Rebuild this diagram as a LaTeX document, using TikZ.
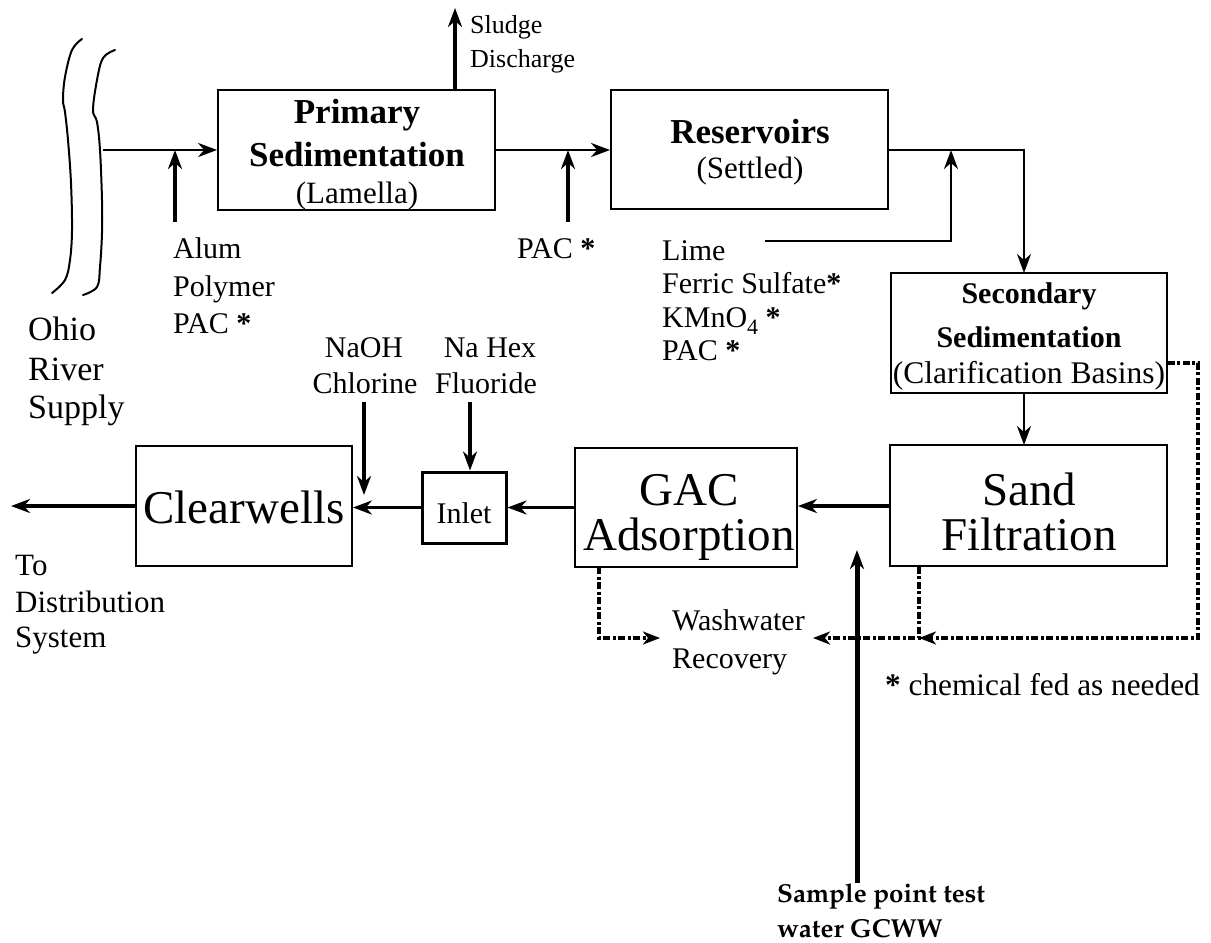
\documentclass[tikz,border=0pt]{standalone}
\usepackage[T1]{fontenc}
\usepackage{fontspec}
\setmainfont{Liberation Serif}
\usetikzlibrary{arrows.meta}
% bold book face for the sampling note
\newcommand\samplefont{\fontencoding{T1}\fontfamily{ppl}\fontseries{b}\selectfont}
\newcommand\fs[1]{\fontsize{#1}{#1}\selectfont}
\newcommand\boldast{\textbf{*}}

\begin{document}
\begin{tikzpicture}[x=1pt,y=-1pt,
  box/.style={draw, line width=1.8pt, inner sep=0pt},
  txt/.style={inner sep=0pt, font=\fs{30}},
  lbl/.style={txt, anchor=base west},
  ctr/.style={txt, anchor=base},
  head/.style={ctr, font=\fs{35}\bfseries},
  big/.style={ctr, font=\fs{47}},
  tip/.tip={Stealth[length=19pt, width=14pt, inset=6pt]},
  flow/.style={line width=2.6pt, -tip},
  thin/.style={line width=2pt, -tip},
  feed/.style={line width=4.5pt, -tip},
  recov/.style={line width=4pt, dash pattern=on 7pt off 2.5pt on 3pt off 2.5pt,
    -{Stealth[length=17pt, width=13pt, inset=5pt]}},
  river/.style={line width=2pt, line cap=round}]
\useasboundingbox (0,0) rectangle (1211,943);

% river banks
\draw[river] plot[smooth, tension=0.6] coordinates {(82,39) (72,50) (65,77) (63,100) (65,112)
  (68,140) (71,183) (72,230) (70,260) (65,280) (52,293)};
\draw[river] plot[smooth, tension=0.6] coordinates {(115,50) (103,58) (97,80) (93,110) (97,122)
  (100,150) (102,200) (102,233) (100,267) (97,287) (83,295)};
\node[lbl, font=\fs{34}] (ohio1) at (28,340) {Ohio};
\node[lbl, font=\fs{34}] (ohio2) at (28,380) {River};
\node[lbl, font=\fs{34}] (ohio3) at (28,418) {Supply};

% process units
\node[box, minimum width=277pt, minimum height=120pt] (prim) at (356.5,150) {};
\node[head] (primA) at (357,123) {Primary};
\node[head] (primB) at (357,166) {Sedimentation};
\node[ctr, font=\fs{31}] (primC) at (357,203) {(Lamella)};

\node[box, minimum width=277pt, minimum height=119pt] (res) at (749.5,149.5) {};
\node[head] (resA) at (750,143) {Reservoirs};
\node[ctr, font=\fs{31}] (resB) at (750,178) {(Settled)};

\node[box, minimum width=276pt, minimum height=120pt] (sec) at (1029,333) {};
\node[head, font=\fs{30}\bfseries] (secA) at (1029,303) {Secondary};
\node[head, font=\fs{30}\bfseries] (secB) at (1029,347) {Sedimentation};
\node[ctr, font=\fs{31.5}] (secC) at (1029,383) {(Clarification Basins)};

\node[box, minimum width=277pt, minimum height=121pt] (sand) at (1028.5,505.5) {};
\node[big] (sandA) at (1029,505) {Sand};
\node[big] (sandB) at (1029,550) {Filtration};

\node[box, minimum width=222pt, minimum height=119pt] (gac) at (686,507.5) {};
\node[big] (gacA) at (689,505) {GAC};
\node[big] (gacB) at (689,550) {Adsorption};

\node[box, line width=3pt, minimum width=84pt, minimum height=71pt] (inlet) at (464,507.5) {};
\node[ctr] (inletT) at (464,523) {Inlet};

\node[box, minimum width=216pt, minimum height=120pt] (clear) at (244,506) {};
\node[big] (clearT) at (244,523) {Clearwells};

% main flow
\coordinate (intake) at (103,150);
\draw[flow] (intake) -- (prim.west |- intake);
\draw[flow] (prim.east |- intake) -- (res.west |- intake);
\coordinate (resout) at (res.east |- intake);
\draw[thin] (resout) -| (1024,273);
\draw[thin] (1024,393) -- (1024,445);
\draw[feed, line width=4pt] (sand.west |- 0,506) -- (gac.east |- 0,506);
\draw[flow, line width=3pt] (gac.west |- inlet) -- (inlet.east);
\draw[flow, line width=3pt] (inlet.west) -- (clear.east |- inlet);
\coordinate (outlet) at (11,506);
\draw[feed, line width=4pt] (clear.west) -- (outlet);

% chemical feeds
\coordinate (alumin) at (175,222);
\draw[feed] (alumin) -- (175,150);
\coordinate (pacin) at (568,222);
\draw[feed] (pacin) -- (568,150);
\coordinate (sludge) at (455,8);
\draw[feed, line width=4pt] (prim.north -| sludge) -- (sludge);
\coordinate (limein) at (765,241);
\draw[thin] (limein) -| (951,150);
\coordinate (naohin) at (364,402);
\draw[feed, line width=4pt] (naohin) -- (364,495);
\coordinate (hexin) at (470,402);
\draw[feed, line width=4pt] (hexin) -- (inlet.north -| hexin);
\coordinate (samplein) at (857,883);
\draw[feed, line width=5pt] (samplein) -- (857,550);

% washwater returns
\coordinate (washL) at (660,638);
\coordinate (washR) at (813,638);
\coordinate (join) at (919,638);
\draw[recov] (599,567) |- (washL);
\draw[recov] (sand.south -| join) -- (join) -- (washR);
\draw[recov] (sec.east |- 0,363) -| (1198,638) -- (join);

% labels
\node[lbl, font=\fs{26}] (sl1) at (470,33) {Sludge};
\node[lbl, font=\fs{26}] (sl2) at (470,67) {Discharge};
\node[lbl] (al1) at (173,258) {Alum};
\node[lbl] (al2) at (173,296) {Polymer};
\node[lbl] (al3) at (173,333) {PAC \boldast};
\node[lbl] (pac) at (517,258) {PAC \boldast};
\node[lbl] (li1) at (662,260) {Lime};
\node[lbl] (li2) at (662,293) {Ferric Sulfate\boldast};
\node[lbl] (li3) at (662,327) {KMnO\raisebox{-7pt}{\fs{22}4} \boldast};
\node[lbl] (li4) at (662,360) {PAC \boldast};
\node[ctr] (na1) at (364,357) {NaOH};
\node[ctr] (na2) at (365,393) {Chlorine};
\node[ctr] (hx1) at (490,357) {Na Hex};
\node[ctr] (hx2) at (486,393) {Fluoride};
\node[lbl, font=\fs{31}] (to1) at (15,575) {To};
\node[lbl, font=\fs{31}] (to2) at (15,612) {Distribution};
\node[lbl, font=\fs{31}] (to3) at (15,647) {System};
\node[lbl] (ww1) at (672,630) {Washwater};
\node[lbl] (ww2) at (672,668) {Recovery};
\node[lbl, font=\fs{31.3}] (note) at (885,695) {\boldast{} chemical fed as needed};
\node[lbl, font=\fs{26}\samplefont] (sp1) at (777,902) {Sample point test};
\node[lbl, font=\fs{26}\samplefont] (sp2) at (777,937) {water GCWW};
\end{tikzpicture}
\end{document}
